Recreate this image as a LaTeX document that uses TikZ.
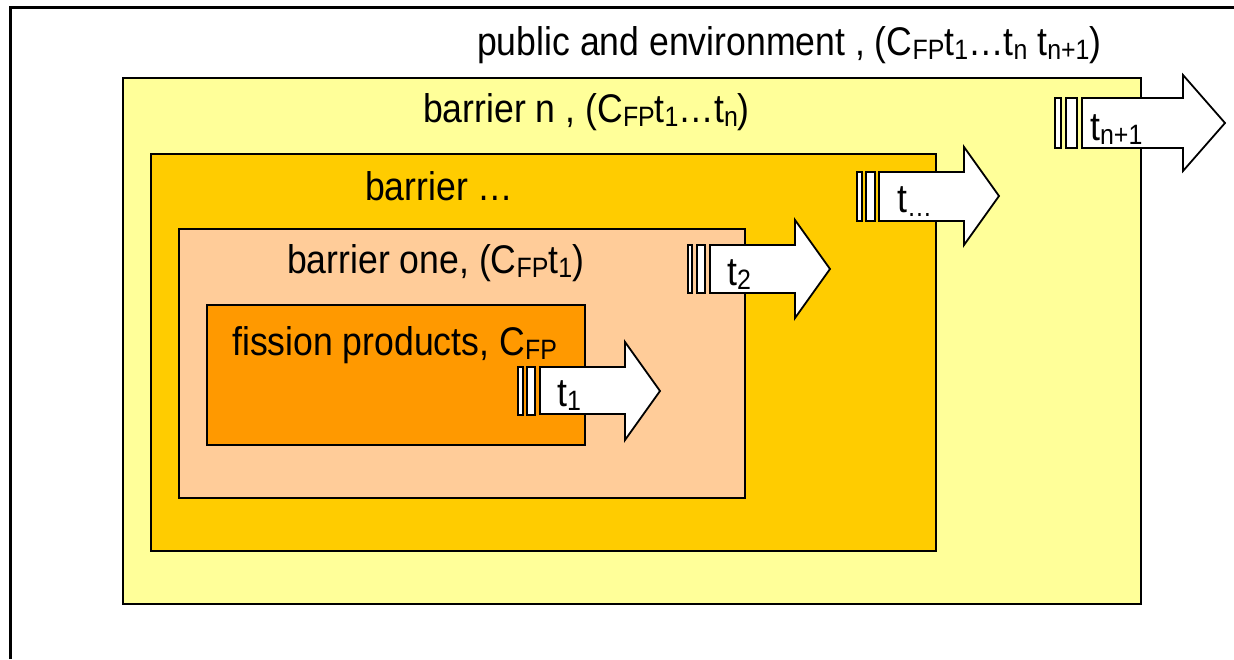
\documentclass[tikz,border=0pt]{standalone}
\usepackage{fontspec}
\setmainfont{Liberation Sans}[FakeStretch=0.89]
\newcommand\lowtext[1]{\raisebox{-4.5pt}{\fontsize{28}{28}\selectfont #1}}
\definecolor{cyel}{HTML}{FFFF99}
\definecolor{cgold}{HTML}{FFCC00}
\definecolor{cpeach}{HTML}{FFCC99}
\definecolor{corange}{HTML}{FF9900}
\tikzset{
  box/.style={draw=black, line width=2.4pt},
  arrowshape/.style={draw=black, fill=white, line width=1.8pt, line join=miter},
  barshape/.style={draw=black, fill=white, line width=1.6pt},
  lbl/.style={anchor=base west, inner sep=0pt, font=\fontsize{40}{44}\selectfont}
}
\begin{document}
\begin{tikzpicture}[x=1pt,y=-1pt]
\useasboundingbox (0,0) rectangle (1234,659);
% outer frame
\coordinate (fa) at (10,659);
\coordinate (fb) at (10,7);
\coordinate (fc) at (1234,7);
\draw[line width=3pt] (fa) -- (fb) -- (fc);
% boxes
\draw[box, fill=cyel] (123,78) rectangle (1141,604);
\draw[box, fill=cgold] (151,154) rectangle (936,551);
\draw[box, fill=cpeach] (179,229) rectangle (745,498);
\draw[box, fill=corange] (207,305) rectangle (585,445);
% arrow t1
\draw[barshape] (518,367) rectangle (523,415);
\draw[barshape] (527,367) rectangle (535,415);
\draw[arrowshape] (540,367) -- (625,367) -- (625,342) -- (660,391) -- (625,440) -- (625,414) -- (540,414) -- cycle;
% arrow t2
\draw[barshape] (688,245) rectangle (692,293);
\draw[barshape] (697,245) rectangle (705,293);
\draw[arrowshape] (710,245) -- (795,245) -- (795,220) -- (830,269) -- (795,318) -- (795,293) -- (710,293) -- cycle;
% arrow t...
\draw[barshape] (857,172) rectangle (862,221);
\draw[barshape] (866,172) rectangle (875,221);
\draw[arrowshape] (879,172) -- (964,172) -- (964,147) -- (999,196) -- (964,245) -- (964,221) -- (879,221) -- cycle;
% arrow tn+1
\draw[barshape] (1055,98) rectangle (1061,148);
\draw[barshape] (1066,98) rectangle (1077,148);
\draw[arrowshape] (1082,98) -- (1183,98) -- (1183,75) -- (1225,123) -- (1183,171) -- (1183,148) -- (1082,148) -- cycle;
% labels
\node[lbl] (pub) at (477,55) {public and environment , (C\lowtext{FP}t\lowtext{1}…t\lowtext{n} t\lowtext{n+1})};
\node[lbl] (bn) at (423,122) {barrier n , (C\lowtext{FP}t\lowtext{1}…t\lowtext{n})};
\node[lbl] (bd) at (365,200) {barrier …};
\node[lbl] (b1) at (287,273) {barrier one, (C\lowtext{FP}t\lowtext{1})};
\node[lbl] (fp) at (232,355) {fission products, C\lowtext{FP}};
\node[lbl] (t1) at (557,406) {t\lowtext{1}};
\node[lbl] (t2) at (727,285) {t\lowtext{2}};
\node[lbl] (td) at (897,212) {t\lowtext{…}};
\node[lbl] (tn) at (1090,140) {t\lowtext{n+1}};
\end{tikzpicture}
\end{document}
